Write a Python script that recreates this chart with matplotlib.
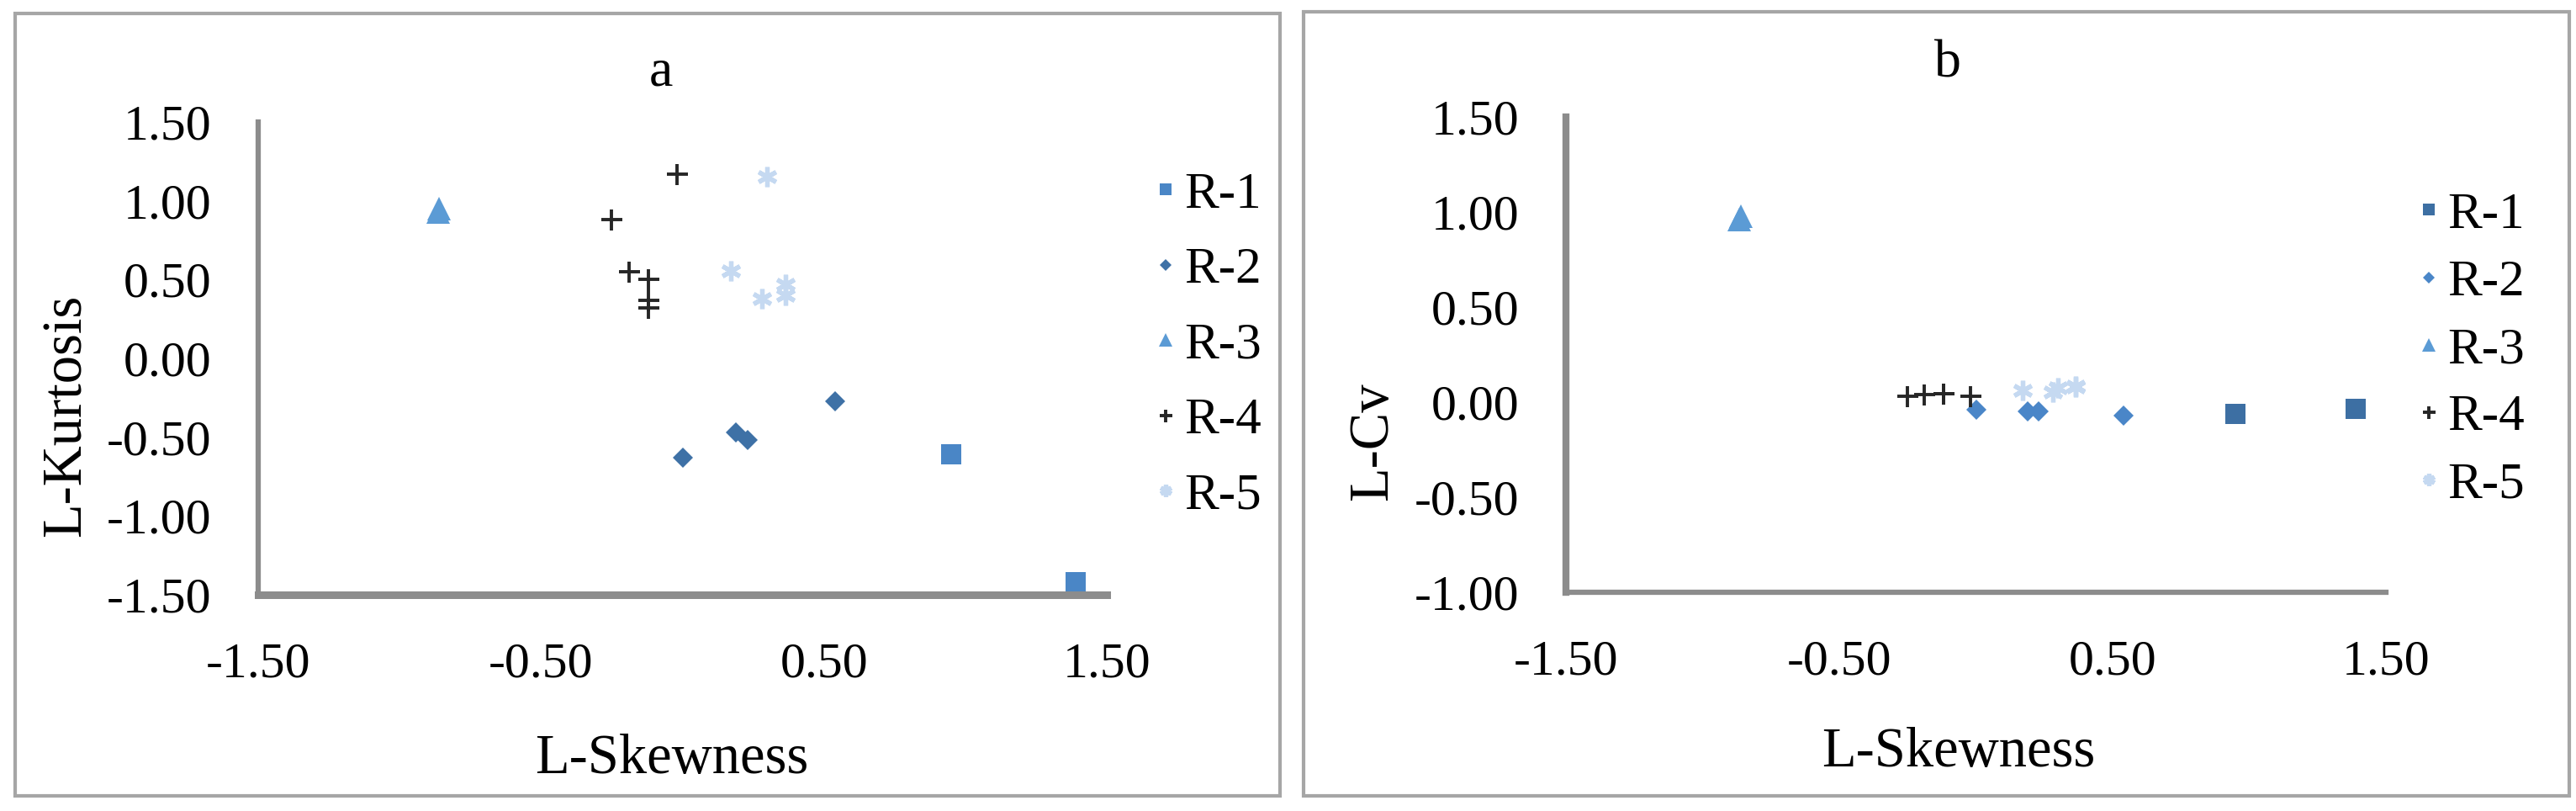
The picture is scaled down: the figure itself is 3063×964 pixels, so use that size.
import matplotlib
matplotlib.use("Agg")
import matplotlib.pyplot as plt
from matplotlib.patches import Rectangle

plt.rcParams['font.family'] = ['Liberation Serif', 'DejaVu Serif']

# ---- data ----
series_names = ["R-1", "R-2", "R-3", "R-4", "R-5"]

r1_skew = [0.95, 1.39]
r1_kurt = [-0.61, -1.42]
r1_cv = [-0.06, -0.035]

r2_skew = [0.0, 0.19, 0.23, 0.54]
r2_kurt = [-0.63, -0.47, -0.52, -0.27]
r2_cv = [-0.04, -0.05, -0.05, -0.07]

r3_skew = [-0.865, -0.86]
r3_kurt = [0.93, 0.95]
r3_cv = [0.96, 0.98]

r4_skew = [-0.02, -0.25, -0.19, -0.12, -0.12, -0.12]
r4_kurt = [1.17, 0.88, 0.55, 0.50, 0.37, 0.32]
r4_cv = [0.03, 0.03, 0.04, 0.045, 0.045, 0.045]

r5_skew = [0.30, 0.17, 0.28, 0.365, 0.365]
r5_kurt = [1.155, 0.555, 0.38, 0.47, 0.40]
r5_cv = [0.075, 0.06, 0.055, 0.084, 0.08]

xticks = [-1.5, -0.5, 0.5, 1.5]
yticks_a = [-1.5, -1.0, -0.5, 0.0, 0.5, 1.0, 1.5]
yticks_b = [-1.0, -0.5, 0.0, 0.5, 1.0, 1.5]

# ---- figure ----
fig = plt.figure(figsize=(30.63, 9.64), dpi=100)
fig.patch.set_facecolor('white')

# panel borders
for (x0, y0, w, h) in [(18 / 3063, 18 / 964, 1504 / 3063, 930 / 964),
                       (1550 / 3063, 18 / 964, 1505 / 3063, 932 / 964)]:
    fig.patches.append(Rectangle((x0, y0), w, h, transform=fig.transFigure,
                                 fill=False, edgecolor='#a6a6a6', linewidth=3.0))

ax_a = fig.add_axes([307 / 3063, 1 - 707 / 964, 1009 / 3063, 562 / 964])
ax_b = fig.add_axes([1862 / 3063, 1 - 704 / 964, 975 / 3063, 565 / 964])

styles = [
    dict(marker='s', color='#4a86c6', ms=17, mew=0),
    dict(marker='D', color='#3e71a6', ms=12, mew=0),
    dict(marker='^', color='#5b9bd5', ms=20, mew=0),
    dict(marker='+', color='#262626', ms=18, mew=2.8),
    dict(marker=(6, 2, 0), color='#c5d9f1', ms=17, mew=3.8),
]
styles_b = [
    dict(marker='s', color='#3d6fa3', ms=17, mew=0),
    dict(marker='D', color='#4a86c8', ms=12, mew=0),
    dict(marker='^', color='#5b9bd5', ms=20, mew=0),
    dict(marker='+', color='#262626', ms=18, mew=2.8),
    dict(marker=(6, 2, 0), color='#c5d9f1', ms=17, mew=3.8),
]

data_a = [(r1_skew, r1_kurt), (r2_skew, r2_kurt), (r3_skew, r3_kurt),
          (r4_skew, r4_kurt), (r5_skew, r5_kurt)]
data_b = [(r1_skew, r1_cv), (r2_skew, r2_cv), (r3_skew, r3_cv),
          (r4_skew, r4_cv), (r5_skew, r5_cv)]

def setup(ax, data, st, yticks, ylabel, title, title_xy, ylabel_xy, xlabel_y,
          leg_xy, leg_sp, xw, yw):
    for (xs, ys), s, name in zip(data, st, series_names):
        ax.plot(xs, ys, linestyle='none', marker=s['marker'], color=s['color'],
                markersize=s['ms'], markeredgewidth=s['mew'],
                markeredgecolor=s['color'], label=name, clip_on=False)
    ax.set_xlim(-1.5, 1.5)
    ax.set_ylim(yticks[0], yticks[-1])
    ax.set_xticks(xticks)
    ax.set_xticklabels([f"{v:.2f}" for v in xticks])
    ax.set_yticks(yticks)
    ax.set_yticklabels([f"{v:.2f}" for v in yticks])
    ax.tick_params(axis='both', length=0, labelsize=43, colors='black')
    ax.tick_params(axis='x', pad=41)
    ax.tick_params(axis='y', pad=40)
    for sp in ['top', 'right']:
        ax.spines[sp].set_visible(False)
    ax.spines['left'].set_color('#8c8c8c')
    ax.spines['bottom'].set_color('#8c8c8c')
    ax.spines['left'].set_linewidth(yw)
    ax.spines['bottom'].set_linewidth(xw)
    ax.set_facecolor('none')
    fig.text(title_xy[0] / 3063, 1 - title_xy[1] / 964, title, fontsize=46,
             ha='center', va='center')
    fig.text(ylabel_xy[0] / 3063, 1 - ylabel_xy[1] / 964, ylabel, fontsize=48,
             rotation=90, ha='center', va='center')
    fig.text(title_xy[0] / 3063 + 0.004, 1 - xlabel_y / 964, 'L-Skewness',
             fontsize=48, ha='center', va='center')
    ax.legend(loc='upper left', bbox_to_anchor=(leg_xy[0] / 3063, 1 - leg_xy[1] / 964),
              bbox_transform=fig.transFigure, frameon=False, fontsize=44,
              markerscale=0.6, handlelength=0.45, handletextpad=0.15,
              labelspacing=leg_sp, borderpad=0, borderaxespad=0)

setup(ax_a, data_a, styles, yticks_a, 'L-Kurtosis', 'a', (786, 86), (79, 494), 902,
      (1372, 204), 0.55, 6.5, 4.5)
setup(ax_b, data_b, styles_b, yticks_b, 'L-Cv', 'b', (2316, 77), (1633, 525), 895,
      (2874, 228), 0.40, 4.5, 6.0)

fig.savefig('out.png', dpi=100, facecolor='white')
